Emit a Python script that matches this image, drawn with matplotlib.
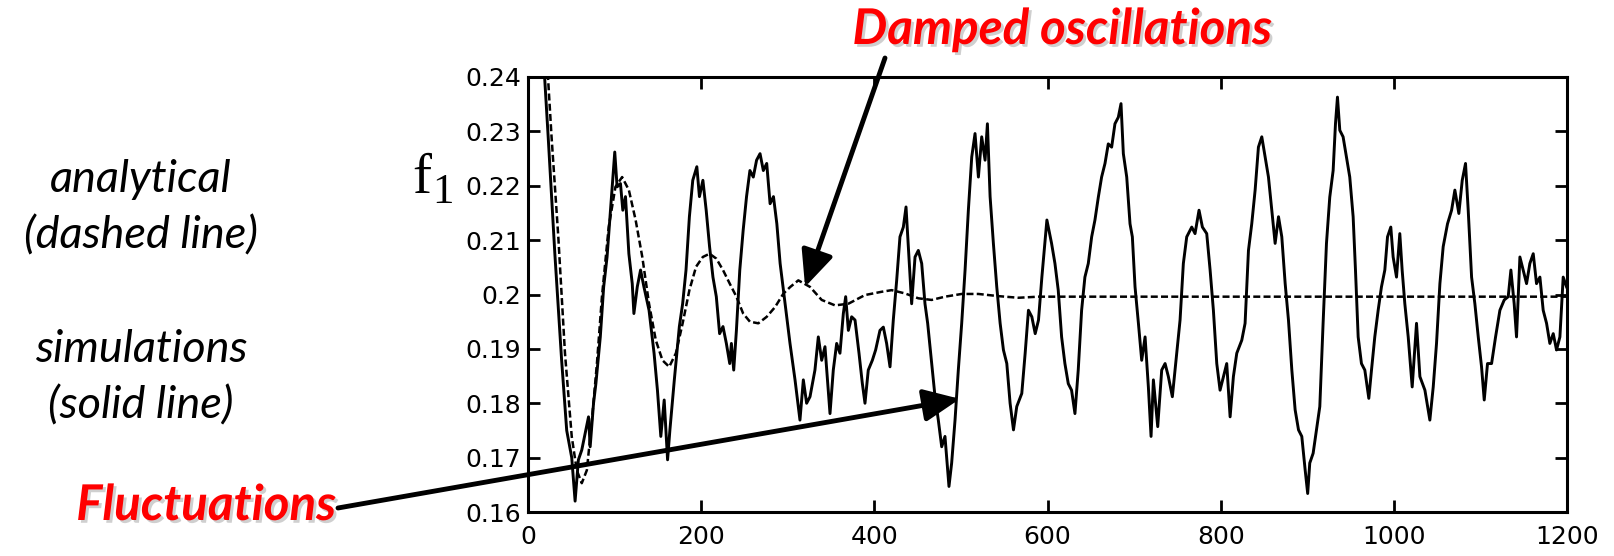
import matplotlib
matplotlib.use('Agg')
import matplotlib.pyplot as plt
import matplotlib.patheffects as pe
from matplotlib.ticker import FormatStrFormatter

# simulation (solid line)
sim_t = [15, 19.4, 23.3, 31, 38.8, 44.7, 50.5, 54.4, 58.2, 62.1, 65.2, 69.9, 71.8, 75.7, 78.4,
         83.5, 87.4, 91.3, 95.3, 97.9, 100.2, 102.9, 106.8, 109.5, 112.6, 116.5, 120.4, 122.3,
         126.2, 130, 133.9, 139.8, 145.6, 149.5, 153.4, 157.3, 161.2, 163.9, 169, 174.8, 178.6,
         182.5, 186.4, 190.3, 195, 198, 202, 205.8, 209.7, 213.6, 217.5, 221.3, 225.2, 229.1,
         233, 234.9, 237.6, 240.7, 244.6, 248.5, 252.4, 256.3, 260.2, 264, 268, 271.8, 275.7,
         279.6, 283.5, 287.4, 291.2, 297, 302.6, 308.4, 314.1, 318, 321.8, 325.7, 331.4, 335.3,
         339.2, 343, 348.8, 352.6, 356.5, 360.3, 364.2, 366.9, 370, 373.8, 377.7, 382.3, 386.1,
         389.2, 393, 397.7, 401.5, 406.5, 410.4, 414.2, 418.1, 421.9, 425.8, 429.6, 433.5,
         436.6, 439.3, 443.1, 447, 450.8, 454.7, 458.5, 461.6, 466.2, 470.1, 473.9, 477.8,
         481.6, 486.2, 489.3, 493.2, 497, 500.9, 504.8, 508.6, 512.5, 516.3, 520.2, 524, 527.9,
         530.6, 533.7, 537.5, 541.4, 545.3, 549.1, 553, 556.8, 560.7, 564.5, 570.3, 574.2, 578,
         581.9, 585.8, 589.6, 593.5, 599.3, 604.7, 608.6, 612.4, 616.3, 620.1, 624, 627.8,
         631.7, 635.5, 639.4, 643.2, 647.1, 651, 654.8, 658.7, 662.5, 666.4, 670.2, 674.1,
         677.9, 681.8, 684.9, 687.6, 691.5, 695.3, 698, 701.1, 705, 708.8, 712.7, 716.5, 719.6,
         722.3, 727.3, 731.9, 735.8, 739.6, 744.2, 749.2, 753.1, 756.9, 760.8, 766.6, 770.4,
         775, 778.9, 783.9, 787.8, 791.6, 795.5, 799.3, 803.2, 807, 810.9, 814.7, 818.6, 824.4,
         828.2, 832.1, 835.9, 839.8, 843.6, 847.5, 851.4, 855.2, 859.1, 862.9, 866.8, 870.6,
         874.5, 878.3, 882.2, 886, 889.9, 893.7, 897.6, 900.5, 902.9, 906.8, 910.6, 914.5,
         918.3, 922.2, 926, 929.9, 932.6, 934.9, 937.6, 941.4, 945.3, 949.1, 953, 955.7, 958.8,
         962.6, 966.5, 971.1, 974.2, 978, 981.9, 985.7, 989.6, 992.7, 996.5, 999.2, 1003.1,
         1006.9, 1009.6, 1012.7, 1016.6, 1021.2, 1026.2, 1030.1, 1035.9, 1041.6, 1045.5,
         1049.3, 1053.2, 1057, 1062, 1066.7, 1070.5, 1075.1, 1079, 1082.8, 1085.9, 1089.8,
         1093.6, 1097.5, 1101.3, 1104.4, 1108.2, 1112.9, 1117.5, 1122.5, 1127.5, 1132.1,
         1135.2, 1139, 1141.7, 1145.6, 1149.4, 1153.3, 1157.1, 1161, 1164.8, 1168.7, 1172.5,
         1176.4, 1180.2, 1184.1, 1187.9, 1191.8, 1195.6, 1199.5]
sim_f1 = [0.252, 0.2394, 0.229, 0.2075, 0.188, 0.175, 0.170, 0.162, 0.1696, 0.1714, 0.1738,
          0.1775, 0.172, 0.180, 0.1836, 0.1922, 0.2014, 0.2069, 0.2155, 0.221, 0.2262, 0.2198,
          0.2204, 0.2155, 0.218, 0.2075, 0.202, 0.1965, 0.2014, 0.2045, 0.2014, 0.1971, 0.1892,
          0.1824, 0.1739, 0.1806, 0.1696, 0.1751, 0.1843, 0.1941, 0.1983, 0.2045, 0.2143, 0.221,
          0.2235, 0.218, 0.221, 0.2155, 0.2088, 0.2032, 0.1996, 0.1928, 0.1941, 0.191, 0.1873,
          0.191, 0.1861, 0.1934, 0.2045, 0.2118, 0.218, 0.2228, 0.2216, 0.2247, 0.2259, 0.2228,
          0.2241, 0.2167, 0.218, 0.213, 0.2057, 0.1983, 0.191, 0.1843, 0.1769, 0.1843, 0.180,
          0.1812, 0.1861, 0.1922, 0.1879, 0.1904, 0.1781, 0.1861, 0.191, 0.1892, 0.1965,
          0.1996, 0.1934, 0.1959, 0.1953, 0.1892, 0.1837, 0.180, 0.1861, 0.1879, 0.1898,
          0.1934, 0.194, 0.191, 0.1867, 0.1953, 0.2026, 0.2106, 0.2124, 0.2161, 0.2088, 0.1983,
          0.2069, 0.2081, 0.2057, 0.1983, 0.1947, 0.1873, 0.1812, 0.1769, 0.172, 0.1739, 0.1647,
          0.169, 0.1769, 0.1861, 0.1947, 0.2045, 0.2155, 0.2253, 0.2296, 0.2216, 0.229, 0.2247,
          0.2314, 0.218, 0.2094, 0.2014, 0.1947, 0.1898, 0.1873, 0.180, 0.1751, 0.1794, 0.1818,
          0.1892, 0.1971, 0.1959, 0.1928, 0.1953, 0.2032, 0.2137, 0.2094, 0.2057, 0.2008,
          0.1922, 0.1873, 0.1836, 0.1824, 0.1781, 0.1861, 0.1971, 0.2032, 0.2057, 0.2106,
          0.2137, 0.2179, 0.2216, 0.2241, 0.2277, 0.2271, 0.2314, 0.2326, 0.2351, 0.2259,
          0.2216, 0.213, 0.2106, 0.2014, 0.1947, 0.1879, 0.1922, 0.183, 0.1739, 0.1843, 0.1757,
          0.1861, 0.1873, 0.1849, 0.1812, 0.1892, 0.1953, 0.2057, 0.2106, 0.2124, 0.2112,
          0.2155, 0.2124, 0.2112, 0.2045, 0.1971, 0.1873, 0.1824, 0.1849, 0.1873, 0.1775,
          0.1849, 0.1892, 0.1916, 0.1947, 0.2081, 0.213, 0.2192, 0.2271, 0.229, 0.2253, 0.2216,
          0.2155, 0.2094, 0.2143, 0.2106, 0.202, 0.1953, 0.1861, 0.1788, 0.1751, 0.1739, 0.1677,
          0.1634, 0.169, 0.1708, 0.1751, 0.1794, 0.1947, 0.2094, 0.2179, 0.2228, 0.2314, 0.2363,
          0.2302, 0.229, 0.2253, 0.2216, 0.2143, 0.2045, 0.1922, 0.1873, 0.1861, 0.1809, 0.1861,
          0.1922, 0.1971, 0.2014, 0.2045, 0.2106, 0.2124, 0.2069, 0.2032, 0.2112, 0.2045,
          0.1983, 0.1922, 0.183, 0.1947, 0.1849, 0.1824, 0.1769, 0.183, 0.191, 0.202, 0.2088,
          0.213, 0.2155, 0.2192, 0.2149, 0.221, 0.2241, 0.2155, 0.2032, 0.1983, 0.1922, 0.1867,
          0.1806, 0.1873, 0.1873, 0.1922, 0.1971, 0.199, 0.1996, 0.2045, 0.1983, 0.1922, 0.2069,
          0.2045, 0.202, 0.2057, 0.2075, 0.202, 0.2032, 0.1971, 0.1947, 0.191, 0.1928, 0.1898,
          0.1922, 0.2032, 0.2014]

# analytical (dashed line)
ana_t = [17, 23.3, 27.2, 35, 42.7, 50.5, 56.3, 62.1, 68, 73.8, 79.6, 85.4, 93.2, 101, 108.7,
         116.5, 124.3, 132, 139.8, 147.6, 155.3, 163.1, 170.8, 178.6, 186.4, 194.1, 201.9,
         209.7, 217.5, 225.2, 233, 240.7, 248.5, 256.3, 266, 275.7, 285.4, 295.1, 303, 312.2,
         325.7, 339.2, 354.6, 370, 389.2, 408.4, 420, 435.4, 450.8, 466.2, 481.6, 500.9, 520.2,
         543.3, 566.4, 589.6, 650, 750, 850, 950, 1050, 1150, 1200]
ana_f1 = [0.252, 0.2394, 0.229, 0.2106, 0.1892, 0.1739, 0.1677, 0.1653, 0.1677, 0.1769, 0.1873,
          0.1996, 0.2124, 0.2198, 0.2216, 0.2192, 0.2137, 0.2069, 0.1983, 0.1916, 0.1879,
          0.1867, 0.1892, 0.1947, 0.2008, 0.2051, 0.2069, 0.2075, 0.2066, 0.2045, 0.202, 0.1996,
          0.1965, 0.195, 0.1947, 0.1959, 0.1977, 0.2002, 0.2014, 0.2026, 0.2014, 0.199, 0.198,
          0.1983, 0.1999, 0.2005, 0.2008, 0.2002, 0.1993, 0.199, 0.1996, 0.2001, 0.2001, 0.1997,
          0.1994, 0.1996, 0.1996, 0.1996, 0.1996, 0.1996, 0.1996, 0.1996, 0.1996]

x_ticks = [0, 200, 400, 600, 800, 1000, 1200]
y_ticks = [0.16, 0.17, 0.18, 0.19, 0.20, 0.21, 0.22, 0.23, 0.24]

W, H = 1614, 556
fig = plt.figure(figsize=(W / 100, H / 100), dpi=100)
ax = fig.add_axes([528 / W, 1 - 512 / H, (1567 - 528) / W, (512 - 77) / H])

ax.plot(sim_t, sim_f1, color='black', lw=2.1)
ax.plot(ana_t, ana_f1, color='black', lw=1.8, dashes=(2.8, 1.3))

ax.set_xlim(0, 1200)
ax.set_ylim(0.16, 0.24)
ax.set_xticks(x_ticks)
ax.set_yticks(y_ticks)
ax.yaxis.set_major_formatter(FormatStrFormatter('%g'))
ax.tick_params(direction='in', length=8.5, width=2, top=True, right=True, labelsize=18)
ax.tick_params(axis='y', pad=5)
ax.tick_params(axis='x', pad=9)
for lab in ax.get_xticklabels() + ax.get_yticklabels():
    lab.set_family('DejaVu Sans')
for s in ax.spines.values():
    s.set_linewidth(2.2)

def px(x, y):
    return x / W, 1 - y / H

# y label f_1 (gnuplot style subscript)
fig.text(*px(412, 193), 'f', family='Liberation Serif', fontsize=41, va='baseline')
fig.text(*px(432, 203), '1', family='Liberation Serif', fontsize=31, va='baseline')

side = dict(family='Lato', style='italic', fontsize=32.5, ha='center', va='baseline')
fig.text(*px(141, 192), 'analytical', **side)
fig.text(*px(141, 248), '(dashed line)', **side)
fig.text(*px(141, 362), 'simulations', **side)
fig.text(*px(141, 418), '(solid line)', **side)

shadow = [pe.SimplePatchShadow(offset=(2, -2), shadow_rgbFace='#a0a0a0', alpha=0.5), pe.Normal()]
red = dict(family='Lato', style='italic', weight='bold', fontsize=35.5, color='#ff0000',
           va='baseline', path_effects=shadow)
fig.text(*px(206, 520), 'Fluctuations', ha='center', **red)
fig.text(*px(1062, 44), 'Damped oscillations', ha='center', **red)

arrow = dict(arrowstyle='-|>,head_length=1.0,head_width=0.45', color='black', lw=3.5,
             mutation_scale=22, shrinkA=0, shrinkB=0)
ax.annotate('', xy=(320, 0.2014), xytext=px(885, 58), textcoords='figure fraction',
            arrowprops=arrow)
ax.annotate('', xy=(498.8, 0.1808), xytext=px(338, 508), textcoords='figure fraction',
            arrowprops=arrow)

fig.savefig('out.png', dpi=100)
